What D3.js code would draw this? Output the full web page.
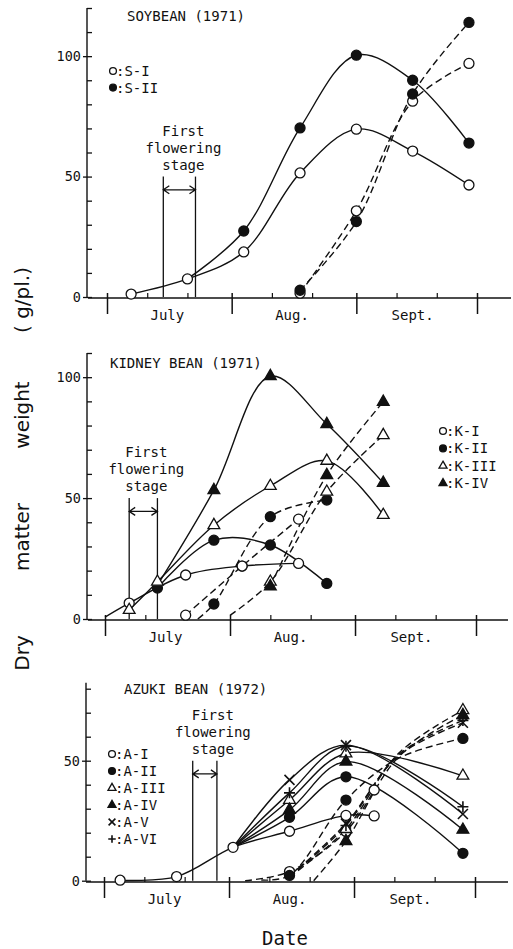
<!DOCTYPE html>
<html>
<head>
<meta charset="utf-8">
<script src="https://cdn.jsdelivr.net/npm/d3@7"></script>
<style>
  body { margin: 0; background: #fff; }
  svg text { font-family: "DejaVu Sans Mono", monospace; fill: #111; }
  .yt text { font-family: "DejaVu Sans", sans-serif; }
</style>
</head>
<body>
<div id="chart"></div>
<script>
// ---- data (dates are mm-dd, values in g/plant) ----
const months = ["July", "Aug.", "Sept."];
const monthMid = ["07-16", "08-16", "09-15"];
const monthStarts = ["07-01", "08-01", "09-01", "10-01"];

// soybean 1971
const soyFlower = ["07-15", "07-23"];
const soyS1PlantDates = ["07-07", "07-21", "08-04", "08-18", "09-01", "09-15", "09-29"];
const soyS1Plant = [1.2, 7.5, 18.7, 51.5, 69.7, 60.6, 46.5];
const soyS2PlantDates = ["07-21", "08-04", "08-18", "09-01", "09-15", "09-29"];
const soyS2Plant = [7.5, 27.4, 70.2, 100.4, 90.0, 63.9];
const soyPodDates = ["08-18", "09-01", "09-15", "09-29"];
const soyS1Pod = [1.6, 35.8, 81.3, 97.0];
const soyS2Pod = [2.8, 31.3, 84.3, 114.0];

// kidney bean 1971
const kidFlower = ["07-07", "07-14"];
const kidK1PlantDates = ["07-01", "07-07", "07-21", "08-04", "08-18"];
const kidK1Plant = [0.8, 6.6, 18.2, 21.9, 23.0];
const kidK2PlantDates = ["07-14", "07-28", "08-11", "08-25"];
const kidK2Plant = [12.8, 32.6, 30.6, 14.7];
const kidK3PlantDates = ["07-07", "07-14", "07-28", "08-11", "08-25", "09-08"];
const kidK3Plant = [3.7, 15.4, 38.8, 55.0, 65.4, 43.0];
const kidK4PlantDates = ["07-14", "07-28", "08-11", "08-25", "09-08"];
const kidK4Plant = [14.0, 53.3, 100.4, 80.6, 56.3];
const kidK1PodDates = ["07-21", "08-04", "08-18"];
const kidK1Pod = [1.6, 21.9, 41.3];
const kidK2PodDates = ["07-24", "07-28", "08-11", "08-25"];
const kidK2Pod = [0, 6.2, 42.3, 49.2];
const kidK3PodDates = ["08-01", "08-11", "08-25", "09-08"];
const kidK3Pod = [1.5, 15.4, 52.6, 76.0];
const kidK4PodDates = ["08-11", "08-25", "09-08"];
const kidK4Pod = [13.5, 59.5, 89.8];

// azuki bean 1972
const aziFlower = ["07-23", "07-29"];
const aziA1PlantDates = ["07-05", "07-19", "08-02", "08-16", "08-30", "09-06"];
const aziA1Plant = [0.2, 1.7, 13.9, 20.6, 27.2, 27.0];
const aziPlantDates = ["08-02", "08-16", "08-30", "09-28"];
const aziA2Plant = [13.9, 26.4, 43.3, 11.4];
const aziA3Plant = [13.9, 33.6, 53.0, 43.7];
const aziA4Plant = [13.9, 29.5, 49.6, 21.2];
const aziA5Plant = [13.9, 42.0, 56.5, 27.8];
const aziA6Plant = [13.9, 36.6, 56.0, 30.8];
const aziA1PodDates = ["08-05", "08-16", "08-30", "09-06"];
const aziA1Pod = [0, 3.8, 20.5, 37.8];
// 09-12 readings sit in the crossing cluster, no marker is visible there
const aziHidden = ["09-12"];
const aziA2PodDates = ["08-09", "08-16", "08-30", "09-12", "09-28"];
const aziA2Pod = [0.3, 2.2, 33.6, 51.0, 59.3];
const aziA3PodDates = ["08-16", "08-30", "09-12", "09-28"];
const aziA3Pod = [1.5, 21.5, 53.0, 71.0];
const aziA4PodDates = ["08-22", "08-30", "09-12", "09-28"];
const aziA4Pod = [0, 16.5, 51.5, 69.0];
const aziA5PodDates = ["08-16", "08-30", "09-12", "09-28"];
const aziA5Pod = [1.8, 23.8, 52.0, 65.8];
const aziA6PodDates = ["08-16", "08-30", "09-12", "09-28"];
const aziA6Pod = [1.6, 23.0, 52.5, 66.8];

const parse = d3.timeParse("%m-%d");
const svg = d3.select("#chart").append("svg")
  .attr("width", 513).attr("height", 949);

// lead = number of leading points that have no marker of their own
function ser(label, sym, dates, values, dashed, lead, hidden) {
  return { label, sym, dashed, lead: lead || 0,
    pts: dates.map((d, i) => ({ date: parse(d), v: values[i],
      mark: i >= (lead || 0) && !(hidden || []).includes(d) })) };
}

const panels = [
  {
    title: "SOYBEAN (1971)", tx: 127, ty: 21,
    xr: [107, 477], yr: [297, 8], ymax: 120, ax: 87, axisY: 298, axisX: [88, 511],
    flower: soyFlower, fdx: 4,
    legend: { x: 113, y: 71, dy: 16.6, items: [["oc", ":S-I"], ["fc", ":S-II"]] },
    series: [
      ser("S-I", "oc", soyS1PlantDates, soyS1Plant, false),
      ser("S-II", "fc", soyS2PlantDates, soyS2Plant, false, 1),
      ser("S-I", "oc", soyPodDates, soyS1Pod, true),
      ser("S-II", "fc", soyPodDates, soyS2Pod, true)
    ]
  },
  {
    title: "KIDNEY BEAN (1971)", tx: 110, ty: 368,
    xr: [105, 476], yr: [619, 353], ymax: 110, ax: 87, axisY: 620, axisX: [88, 508],
    flower: kidFlower, fdx: 3,
    legend: { x: 443, y: 431, dy: 17.4, items: [["oc", ":K-I"], ["fc", ":K-II"], ["ot", ":K-III"], ["ft", ":K-IV"]] },
    series: [
      ser("K-I", "oc", kidK1PlantDates, kidK1Plant, false, 1),
      ser("K-II", "fc", kidK2PlantDates, kidK2Plant, false),
      ser("K-III", "ot", kidK3PlantDates, kidK3Plant, false),
      ser("K-IV", "ft", kidK4PlantDates, kidK4Plant, false, 1),
      ser("K-I", "oc", kidK1PodDates, kidK1Pod, true),
      ser("K-II", "fc", kidK2PodDates, kidK2Pod, true, 1),
      ser("K-III", "ot", kidK3PodDates, kidK3Pod, true, 1),
      ser("K-IV", "ft", kidK4PodDates, kidK4Pod, true)
    ]
  },
  {
    title: "AZUKI BEAN (1972)", tx: 124, ty: 694,
    xr: [104, 475], yr: [880.7, 688.7], ymax: 80, ax: 86, axisY: 882, axisX: [86, 508], ext: 6,
    flower: aziFlower, fdx: 8,
    legend: { x: 112, y: 754, dy: 17, items: [["oc", ":A-I"], ["fc", ":A-II"], ["ot", ":A-III"], ["ft", ":A-IV"], ["x", ":A-V"], ["p", ":A-VI"]] },
    series: [
      ser("A-I", "oc", aziA1PlantDates, aziA1Plant, false),
      ser("A-II", "fc", aziPlantDates, aziA2Plant, false, 1),
      ser("A-III", "ot", aziPlantDates, aziA3Plant, false, 1),
      ser("A-IV", "ft", aziPlantDates, aziA4Plant, false, 1),
      ser("A-V", "x", aziPlantDates, aziA5Plant, false, 1),
      ser("A-VI", "p", aziPlantDates, aziA6Plant, false, 1),
      ser("A-I", "oc", aziA1PodDates, aziA1Pod, true, 1),
      ser("A-II", "fc", aziA2PodDates, aziA2Pod, true, 1, aziHidden),
      ser("A-III", "ot", aziA3PodDates, aziA3Pod, true, 1, aziHidden),
      ser("A-IV", "ft", aziA4PodDates, aziA4Pod, true, 1, aziHidden),
      ser("A-V", "x", aziA5PodDates, aziA5Pod, true, 1, aziHidden),
      ser("A-VI", "p", aziA6PodDates, aziA6Pod, true, 1, aziHidden)
    ]
  }
];

function drawSym(g, type, cx, cy, big) {
  const k = big ? 1 : 0.68;
  if (type === "oc" || type === "fc") {
    g.append("circle").attr("cx", cx).attr("cy", cy).attr("r", 5 * k)
      .attr("fill", type === "fc" ? "#111" : "#fff")
      .attr("stroke", "#111").attr("stroke-width", 1.3);
  } else if (type === "ot" || type === "ft") {
    g.append("path")
      .attr("d", d3.symbol(d3.symbolTriangle, 60 * k * k)())
      .attr("transform", `translate(${cx},${cy})`)
      .attr("fill", type === "ft" ? "#111" : "#fff")
      .attr("stroke", "#111").attr("stroke-width", 1.3);
  } else if (type === "x") {
    const s = 5 * k;
    g.append("path")
      .attr("d", `M${cx - s},${cy - s}L${cx + s},${cy + s}M${cx - s},${cy + s}L${cx + s},${cy - s}`)
      .attr("stroke", "#111").attr("stroke-width", 1.6);
  } else if (type === "p") {
    const s = 5.5 * k;
    g.append("path")
      .attr("d", `M${cx - s},${cy}L${cx + s},${cy}M${cx},${cy - s}L${cx},${cy + s}`)
      .attr("stroke", "#111").attr("stroke-width", 1.6);
  }
}

panels.forEach(p => {
  const g = svg.append("g");
  const x = d3.scaleTime().domain([parse("07-01"), parse("10-01")]).range(p.xr);
  const y = d3.scaleLinear().domain([0, p.ymax]).range(p.yr);

  // y axis: minor ticks pointing inward, labelled ticks crossing
  const ya = g.append("g").attr("transform", `translate(${p.ax},0)`)
    .call(d3.axisRight(y).tickValues(d3.range(0, p.ymax + 1, 10)).tickSize(5).tickSizeOuter(0).tickFormat(""));
  ya.select(".domain").remove();
  g.append("line").attr("x1", p.ax).attr("x2", p.ax)
    .attr("y1", y(0)).attr("y2", y(p.ymax) - (p.ext || 0))
    .attr("stroke", "#111").attr("stroke-width", 1.4);
  const yl = g.append("g").attr("transform", `translate(${p.ax},0)`)
    .call(d3.axisLeft(y).tickValues(d3.range(0, p.ymax + 1, 50)).tickSize(4).tickPadding(2));
  yl.select(".domain").remove();
  yl.selectAll("text").attr("font-size", 13.5).attr("font-family", "DejaVu Sans Mono");
  g.selectAll(".tick line").attr("stroke", "#111").attr("stroke-width", 1.3);

  // x axis line
  g.append("line").attr("x1", p.axisX[0]).attr("x2", p.axisX[1])
    .attr("y1", p.axisY).attr("y2", p.axisY)
    .attr("stroke", "#111").attr("stroke-width", 1.4);
  // month ticks crossing the axis
  const xm = g.append("g").attr("transform", `translate(0,${p.axisY})`)
    .call(d3.axisBottom(x).tickValues(monthStarts.map(parse)).tickSize(16).tickFormat(""));
  xm.select(".domain").remove();
  xm.selectAll(".tick line").attr("y1", -5).attr("stroke", "#111").attr("stroke-width", 1.5);
  // ten-day ticks
  const tenDays = ["07-11", "07-21", "08-11", "08-21", "09-11", "09-21"].map(parse);
  const xd = g.append("g").attr("transform", `translate(0,${p.axisY})`)
    .call(d3.axisTop(x).tickValues(tenDays).tickSize(5).tickFormat(""));
  xd.select(".domain").remove();
  xd.selectAll(".tick line").attr("stroke", "#111").attr("stroke-width", 1.2);
  // month labels
  g.selectAll(".mlab").data(months).join("text")
    .attr("x", (d, i) => x(parse(monthMid[i])))
    .attr("y", p.axisY + 22)
    .attr("text-anchor", "middle").attr("font-size", 14)
    .text(d => d);

  // title
  g.append("text").attr("x", p.tx).attr("y", p.ty).attr("font-size", 14).text(p.title);

  // first flowering stage
  const fx = p.flower.map(d => x(parse(d)));
  const y50 = y(50);
  fx.forEach(v => g.append("line").attr("x1", v).attr("x2", v)
    .attr("y1", y50).attr("y2", y(0)).attr("stroke", "#111").attr("stroke-width", 1.3));
  const ay = y(44.5);
  g.append("path")
    .attr("d", `M${fx[0]},${ay}H${fx[1]}M${fx[0] + 6},${ay - 4}L${fx[0]},${ay}L${fx[0] + 6},${ay + 4}` +
      `M${fx[1] - 6},${ay - 4}L${fx[1]},${ay}L${fx[1] - 6},${ay + 4}`)
    .attr("fill", "none").attr("stroke", "#111").attr("stroke-width", 1.3);
  const fcx = (fx[0] + fx[1]) / 2 + p.fdx;
  [["First", -41], ["flowering", -24], ["stage", -7]].forEach(([t, dy]) =>
    g.append("text").attr("x", fcx).attr("y", y50 + dy)
      .attr("text-anchor", "middle").attr("font-size", 14).text(t));

  // curves
  const line = d3.line().x(d => x(d.date)).y(d => y(d.v))
    .curve(d3.curveCatmullRom.alpha(0.5));
  g.selectAll(".curve").data(p.series).join("path")
    .attr("class", "curve")
    .attr("d", d => line(d.pts))
    .attr("fill", "none").attr("stroke", "#111").attr("stroke-width", 1.4)
    .attr("stroke-dasharray", d => d.dashed ? "7,4" : null);

  // markers
  const mk = g.append("g");
  p.series.forEach(s => s.pts.filter(d => d.mark).forEach(d =>
    drawSym(mk, s.sym, x(d.date), y(d.v), true)));

  // legend
  p.legend.items.forEach(([t, lab], i) => {
    const ly = p.legend.y + i * p.legend.dy;
    drawSym(g, t, p.legend.x, ly, false);
    g.append("text").attr("x", p.legend.x + 3).attr("y", ly + 5)
      .attr("font-size", 14).text(lab);
  });
});

// axis titles
const yt = svg.append("g").attr("class", "yt");
[["( g/pl.)", 300], ["weight", 415], ["matter", 537], ["Dry", 653]].forEach(([t, cy]) =>
  yt.append("text").attr("transform", `translate(29,${cy}) rotate(-90)`)
    .attr("text-anchor", "middle").attr("font-size", 20).text(t));
svg.append("text").attr("x", 285).attr("y", 945).attr("text-anchor", "middle")
  .attr("font-family", "DejaVu Sans, sans-serif").attr("font-size", 19).text("Date");
</script>
</body>
</html>
